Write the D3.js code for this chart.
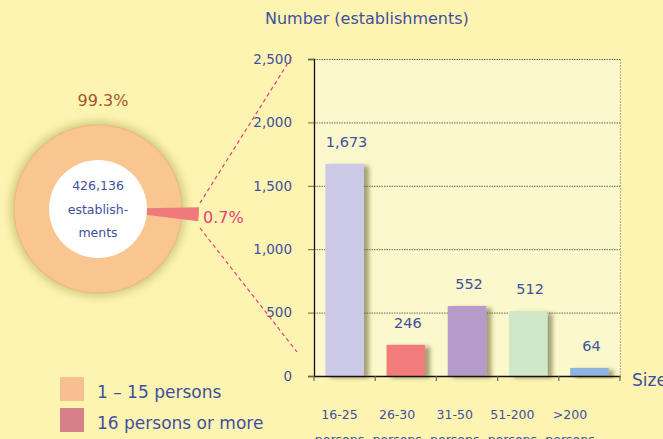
<!DOCTYPE html>
<html><head><meta charset="utf-8">
<script src="https://cdn.jsdelivr.net/npm/d3@7"></script>
<style>
html,body{margin:0;padding:0;background:#fdf4b2;}
svg{display:block;font-family:"DejaVu Sans",sans-serif;}
</style></head>
<body>
<svg id="chart" width="663" height="439"></svg>
<script>
// ---- data ----
const categories = ["16-25", "26-30", "31-50", "51-200", ">200"];
const counts = [1673, 246, 552, 512, 64];
const barColors = ["#cdcae8", "#f27b7b", "#b69bca", "#d1e8c8", "#8fb4e0"];
const yTicks = [0, 500, 1000, 1500, 2000, 2500];
const pieLabels = ["1 – 15 persons", "16 persons or more"];
const pieValues = [423089, 3047];
const piePercents = ["99.3%", "0.7%"];
const pieColors = ["#f9c591", "#ef7a7c"];
const legendColors = ["#f8c090", "#d5808a"];
const totalLabel = ["426,136", "establish-", "ments"];
const unitLabel = "persons";

const blue = "#3f50a0";
const svg = d3.select("#chart");
const defs = svg.append("defs");
const sh = defs.append("filter").attr("id","shadow").attr("x","-30%").attr("y","-30%").attr("width","180%").attr("height","160%");
sh.append("feDropShadow").attr("dx",5).attr("dy",2).attr("stdDeviation",2.2).attr("flood-color","#5e5a28").attr("flood-opacity",0.55);
const glow = defs.append("filter").attr("id","glow").attr("x","-20%").attr("y","-20%").attr("width","140%").attr("height","140%");
glow.append("feGaussianBlur").attr("stdDeviation",4);

// ---- bar chart ----
const x0 = 314, x1 = 620, yTop = 59, yBot = 376;
const x = d3.scaleBand().domain(categories).range([x0, x1]).paddingInner(0.37).paddingOuter(0.185);
const y = d3.scaleLinear().domain([0, 2500]).range([yBot, yTop]);
const xLab = d3.scalePoint().domain(categories).range([339.5, 570]);

svg.append("rect").attr("x", x0).attr("y", yTop).attr("width", x1 - x0).attr("height", yBot - yTop).attr("fill", "#fbf8cc");

// gridlines
svg.append("g").selectAll("line").data(yTicks.filter(d => d > 0)).join("line")
  .attr("x1", x0).attr("x2", x1).attr("y1", d => y(d) + 0.5).attr("y2", d => y(d) + 0.5)
  .attr("stroke", "#6a6a60").attr("stroke-width", 1).attr("stroke-dasharray", "1.5,1");
// right border
svg.append("line").attr("x1", x1 + 0.5).attr("x2", x1 + 0.5).attr("y1", yTop).attr("y2", yBot)
  .attr("stroke", "#b8b49a").attr("stroke-width", 1.2).attr("stroke-dasharray", "2,1");

// bars
svg.append("g").selectAll("rect").data(counts).join("rect")
  .attr("x", (d, i) => x(categories[i])).attr("width", x.bandwidth())
  .attr("y", d => y(d)).attr("height", d => yBot - y(d))
  .attr("fill", (d, i) => barColors[i]).attr("filter", "url(#shadow)");

// value labels
svg.append("g").selectAll("text").data(counts).join("text")
  .attr("x", (d, i) => x(categories[i]) + x.bandwidth() / 2 + 2)
  .attr("y", d => y(d) - 17)
  .attr("text-anchor", "middle").attr("fill", blue).attr("font-size", 14.5)
  .text(d => d3.format(",")(d));

// y axis
const yAxis = svg.append("g").attr("transform", `translate(${x0},0)`)
  .call(d3.axisLeft(y).tickValues(yTicks).tickFormat(d3.format(",")).tickSize(6).tickPadding(16));
yAxis.select(".domain").attr("stroke", "#111").attr("stroke-width", 1.3);
yAxis.selectAll(".tick line").attr("stroke", "#6b6550");
yAxis.selectAll(".tick text").attr("fill", blue).attr("font-size", 13.5).attr("font-family", "DejaVu Sans");

// x axis
const xAxis = svg.append("g").attr("transform", `translate(0,${yBot})`)
  .call(d3.axisBottom(x).tickValues([]).tickSizeOuter(0));
xAxis.select(".domain").attr("stroke", "#111").attr("stroke-width", 1.3);
const bounds = categories.map(c => x(c) - x.step() * x.paddingInner() / 2).concat([x1]);
xAxis.selectAll("line.tk").data(bounds).join("line").attr("class", "tk")
  .attr("x1", d => d).attr("x2", d => d).attr("y1", 0).attr("y2", 5)
  .attr("stroke", "#6b6550").attr("stroke-width", 1.2);

// category labels
svg.append("g").selectAll("text").data(categories).join("text")
  .attr("x", d => xLab(d)).attr("y", 419).attr("text-anchor", "middle")
  .attr("fill", blue).attr("font-size", 12.5).text(d => d);
svg.append("g").selectAll("text").data(categories).join("text")
  .attr("x", d => xLab(d)).attr("y", 444).attr("text-anchor", "middle")
  .attr("fill", blue).attr("font-size", 12.5).text(unitLabel);

svg.append("text").attr("x", 265).attr("y", 24).attr("fill", blue).attr("font-size", 16).text("Number (establishments)");
svg.append("text").attr("x", 632).attr("y", 386).attr("fill", blue).attr("font-size", 17).text("Size");

// ---- donut ----
const cx = 98, cy = 209, rOuter = 84, rInner = 49, rSlice = 101;
const frac = pieValues[1] / d3.sum(pieValues);
const centerAngle = 93 * Math.PI / 180;
const startA = centerAngle - 2 * Math.PI + Math.PI * frac;
const pie = d3.pie().sort(null).startAngle(startA).endAngle(startA + 2 * Math.PI);
const arcs = pie(pieValues);
const g = svg.append("g").attr("transform", `translate(${cx},${cy})`);
g.append("circle").attr("r", rOuter + 4).attr("fill", "#d3cd80").attr("filter", "url(#glow)");
g.append("path").attr("d", d3.arc().innerRadius(0).outerRadius(rOuter)(arcs[0]))
  .attr("fill", pieColors[0]);
g.append("circle").attr("r", rOuter).attr("fill", "none").attr("stroke", "#e9b47e").attr("stroke-width", 1.5).attr("opacity", 0.6);
// small slice, exploded and widened to stay visible
const minSpan = 8 * Math.PI / 180;
const mid = (arcs[1].startAngle + arcs[1].endAngle) / 2;
const small = Object.assign({}, arcs[1], {
  startAngle: Math.min(arcs[1].startAngle, mid - minSpan / 2),
  endAngle: Math.max(arcs[1].endAngle, mid + minSpan / 2)
});
g.append("path").attr("d", d3.arc().innerRadius(rInner - 1).outerRadius(rSlice)(small))
  .attr("fill", pieColors[1]);
g.append("circle").attr("r", rInner).attr("fill", "#ffffff");
g.selectAll("text.c").data(totalLabel).join("text").attr("class", "c")
  .attr("x", 0).attr("y", (d, i) => -19 + i * 23.5).attr("text-anchor", "middle")
  .attr("fill", blue).attr("font-size", 12.5).text(d => d);

svg.append("text").attr("x", 103).attr("y", 106).attr("text-anchor", "middle")
  .attr("fill", "#a0582a").attr("font-size", 16).text(piePercents[0]);
svg.append("text").attr("x", 203).attr("y", 223)
  .attr("fill", "#e8407a").attr("font-size", 16).text(piePercents[1]);

// connector lines
const conn = [[[200, 203], [293, 55]], [[200, 228], [297, 352]]];
svg.append("g").selectAll("line").data(conn).join("line")
  .attr("x1", d => d[0][0]).attr("y1", d => d[0][1]).attr("x2", d => d[1][0]).attr("y2", d => d[1][1])
  .attr("stroke", "#e8407a").attr("stroke-width", 1.2).attr("stroke-dasharray", "4,3");

// legend
const lg = svg.append("g");
lg.selectAll("rect").data(pieLabels).join("rect")
  .attr("x", 60).attr("y", (d, i) => 377 + i * 31).attr("width", 24).attr("height", 24)
  .attr("fill", (d, i) => legendColors[i]);
lg.selectAll("text").data(pieLabels).join("text")
  .attr("x", 97).attr("y", (d, i) => 398 + i * 31)
  .attr("fill", blue).attr("font-size", 17).text(d => d);
</script>
</body></html>
